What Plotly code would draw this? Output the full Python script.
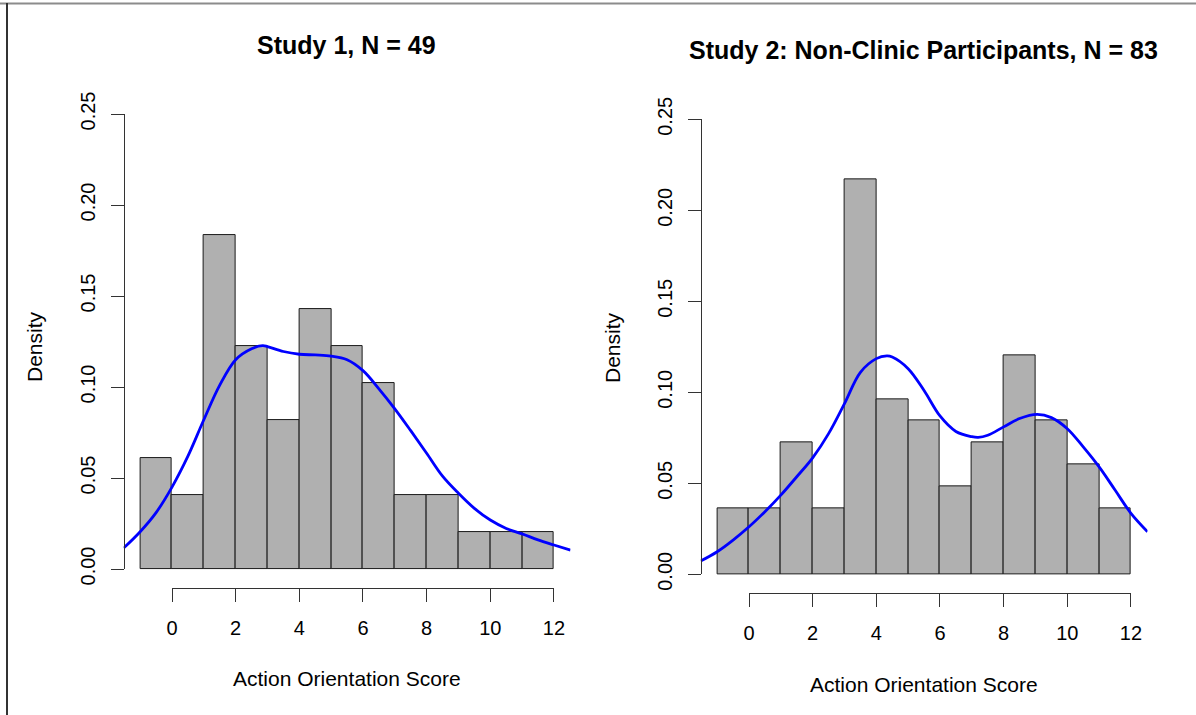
import plotly.graph_objects as go

# ---------------- data ----------------
breaks = list(range(-1, 13))                      # bin edges, width 1
counts_s1 = [3, 2, 9, 6, 4, 7, 6, 5, 2, 2, 1, 1, 1]          # Study 1 (N = 49)
counts_s2 = [3, 3, 6, 3, 18, 8, 7, 4, 6, 10, 7, 5, 3]        # Study 2 (N = 83)

# density curves
dens1_x = [-1.52, -1.0, -0.5, 0.0, 0.5, 1.0, 1.5, 2.0, 2.5, 2.85, 3.0, 3.5, 4.0, 4.5, 5.0,
           5.5, 6.0, 6.5, 7.0, 7.5, 8.0, 8.5, 9.0, 9.5, 10.0, 10.5, 11.0, 11.5, 12.0, 12.52]
dens1_y = [0.0115, 0.0205, 0.031, 0.045, 0.062, 0.082, 0.101, 0.115, 0.121, 0.1227, 0.1222,
           0.1195, 0.118, 0.1176, 0.117, 0.115, 0.109, 0.099, 0.088, 0.076, 0.0636, 0.051,
           0.0416, 0.0333, 0.0269, 0.0223, 0.0193, 0.016, 0.0132, 0.0104]

dens2_x = [-1.52, -1.0, -0.5, 0.0, 0.5, 1.0, 1.5, 2.0, 2.5, 3.0, 3.5, 4.0, 4.33, 4.5, 5.0,
           5.5, 6.0, 6.5, 7.0, 7.2, 7.5, 8.0, 8.5, 9.05, 9.5, 10.0, 10.5, 11.0, 11.5, 12.0, 12.52]
dens2_y = [0.0073, 0.0124, 0.0188, 0.0261, 0.0344, 0.0435, 0.0536, 0.0640, 0.0773, 0.0938,
           0.111, 0.1185, 0.1200, 0.1194, 0.113, 0.101, 0.0870, 0.0785, 0.0756, 0.0752,
           0.0764, 0.081, 0.0856, 0.0879, 0.0861, 0.080, 0.070, 0.059, 0.0463, 0.0335, 0.0234]

x_ticks = [0, 2, 4, 6, 8, 10, 12]
y_ticks = [0.00, 0.05, 0.10, 0.15, 0.20, 0.25]
y_ticktext = ["0.00", "0.05", "0.10", "0.15", "0.20", "0.25"]

titles = ["Study 1, N = 49", "Study 2: Non-Clinic Participants, N = 83"]
xlab = "Action Orientation Score"
ylab = "Density"

# ---------------- layout geometry (pixels) ----------------
W, H = 1196, 715
XLIM = (-1.52, 12.52)
YLIM = (-0.0104, 0.2604)
UX = 31.83      # px per x unit
UY = 1820.0     # px per density unit


def fx(p):
    return p / W


def fy(p):
    return 1 - p / H


FONT = "Liberation Sans, Arial, Helvetica, sans-serif"
AXC = "#333333"

panels = [
    dict(x0=172.0, y0=569.0, counts=counts_s1, dx=dens1_x, dy=dens1_y,
         title_xy=(347, 45), xlab_y=678, ylab_xy=(35, 347),
         axes=("xaxis", "yaxis", "xaxis2", "yaxis2"), refs=("x", "y", "x2", "y2")),
    dict(x0=749.0, y0=574.3, counts=counts_s2, dx=dens2_x, dy=dens2_y,
         title_xy=(923, 50), xlab_y=684, ylab_xy=(612, 348),
         axes=("xaxis3", "yaxis3", "xaxis4", "yaxis4"), refs=("x3", "y3", "x4", "y4")),
]

fig = go.Figure()
layout = dict(width=W, height=H, autosize=False,
              margin=dict(l=0, r=0, t=0, b=0, pad=0, autoexpand=False),
              plot_bgcolor="rgba(0,0,0,0)", paper_bgcolor="white", showlegend=False,
              bargap=0, annotations=[], shapes=[])

for i, p in enumerate(panels):
    n = sum(p["counts"])
    mids = [(breaks[k] + breaks[k + 1]) / 2 for k in range(len(p["counts"]))]
    widths = [breaks[k + 1] - breaks[k] for k in range(len(p["counts"]))]
    dens = [c / (n * w) for c, w in zip(p["counts"], widths)]

    ax_mx, ax_my, ax_tx, ax_ty = p["axes"]
    r_mx, r_my, r_tx, r_ty = p["refs"]

    fig.add_trace(go.Bar(x=mids, y=dens, width=widths, xaxis=r_mx, yaxis=r_my,
                         marker=dict(color="#B0B0B0", line=dict(color="#1a1a1a", width=1)),
                         hoverinfo="skip"))
    fig.add_trace(go.Scatter(x=p["dx"], y=p["dy"], mode="lines", xaxis=r_mx, yaxis=r_my,
                             line=dict(color="#0000FF", width=2.8, shape="spline", smoothing=1.0),
                             hoverinfo="skip"))
    fig.add_trace(go.Scatter(x=[], y=[], mode="lines", xaxis=r_tx, yaxis=r_ty,
                             hoverinfo="skip"))

    left = p["x0"] + XLIM[0] * UX
    right = p["x0"] + XLIM[1] * UX
    bottom = p["y0"] - YLIM[0] * UY
    top = p["y0"] - YLIM[1] * UY

    layout[ax_mx] = dict(domain=[fx(left), fx(right)], range=list(XLIM), visible=False,
                         anchor=r_my, fixedrange=True, automargin=False)
    layout[ax_my] = dict(domain=[fy(bottom), fy(top)], range=list(YLIM), visible=False,
                         anchor=r_mx, fixedrange=True, automargin=False)
    layout[ax_tx] = dict(domain=[fx(p["x0"] + x_ticks[0] * UX), fx(p["x0"] + x_ticks[-1] * UX)],
                         range=[x_ticks[0], x_ticks[-1]], anchor="free", position=fy(bottom),
                         side="bottom", showline=True, linecolor=AXC, linewidth=1,
                         ticks="outside", ticklen=13, tickwidth=1, tickcolor=AXC,
                         tickvals=x_ticks, ticktext=[str(v) for v in x_ticks],
                         ticklabelstandoff=9, automargin=False,
                         tickfont=dict(family=FONT, size=20, color="black"),
                         showgrid=False, zeroline=False, fixedrange=True)
    layout[ax_ty] = dict(domain=[fy(p["y0"] - y_ticks[0] * UY), fy(p["y0"] - y_ticks[-1] * UY)],
                         range=[y_ticks[0], y_ticks[-1]], anchor="free", position=fx(left),
                         side="left", showline=True, linecolor=AXC, linewidth=1,
                         ticks="outside", ticklen=13, tickwidth=1, tickcolor=AXC,
                         tickvals=y_ticks, ticktext=y_ticktext, tickangle=-90,
                         ticklabelstandoff=8, automargin=False,
                         tickfont=dict(family=FONT, size=20, color="black"),
                         showgrid=False, zeroline=False, fixedrange=True)

    tx, ty = p["title_xy"]
    layout["annotations"].append(dict(text=f"<b>{titles[i]}</b>", x=fx(tx), y=fy(ty),
                                      xref="paper", yref="paper", xanchor="center",
                                      yanchor="middle", showarrow=False,
                                      font=dict(family=FONT, size=25, color="black")))
    layout["annotations"].append(dict(text=xlab, x=fx((left + right) / 2), y=fy(p["xlab_y"]),
                                      xref="paper", yref="paper", xanchor="center",
                                      yanchor="middle", showarrow=False,
                                      font=dict(family=FONT, size=21, color="black")))
    lx, ly = p["ylab_xy"]
    layout["annotations"].append(dict(text=ylab, x=fx(lx), y=fy(ly),
                                      xref="paper", yref="paper", xanchor="center",
                                      yanchor="middle", showarrow=False, textangle=-90,
                                      font=dict(family=FONT, size=21, color="black")))

# thin frame lines (top and left edges of the image)
layout["shapes"].append(dict(type="line", xref="paper", yref="paper", x0=0, x1=1,
                             y0=fy(3.5), y1=fy(3.5), line=dict(color="#8c8c8c", width=2)))
layout["shapes"].append(dict(type="line", xref="paper", yref="paper", x0=fx(7), x1=fx(7),
                             y0=0, y1=fy(3), line=dict(color="#333333", width=2)))

fig.update_layout(**layout)

page_fix = """
document.documentElement.style.margin='0';
document.documentElement.style.padding='0';
document.body.style.margin='0';
document.body.style.padding='0';
document.body.style.overflow='hidden';
var gd = document.getElementById('{plot_id}');
if (gd && gd.parentElement) {
  gd.parentElement.style.fontSize='0';
  gd.parentElement.style.lineHeight='0';
  gd.parentElement.style.margin='0';
  gd.parentElement.style.padding='0';
}
"""
fig.write_html("out.html", post_script=page_fix, config={"displayModeBar": False})
